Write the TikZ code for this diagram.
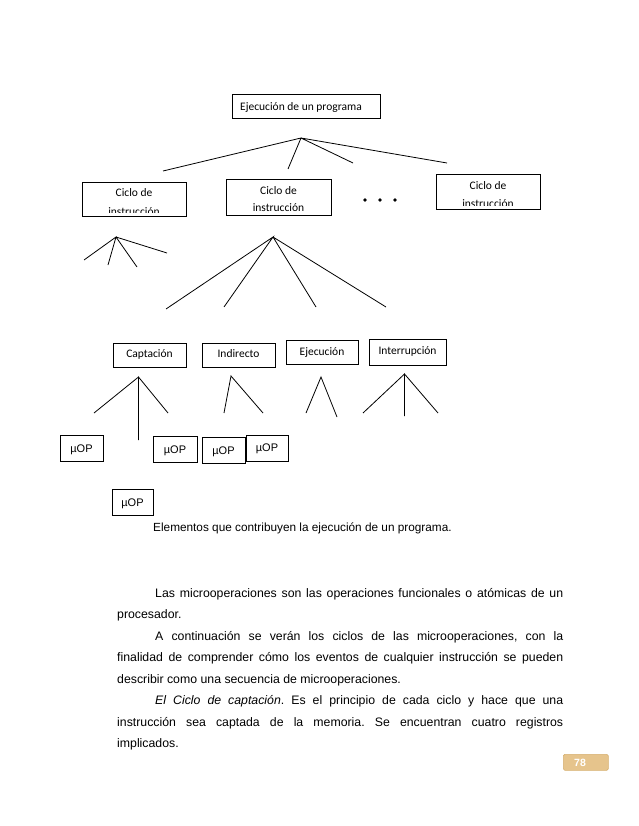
\documentclass[tikz,border=0pt]{standalone}
\usepackage{fontspec}
\setmainfont{Liberation Sans}
\newfontfamily\carl{Carlito}
\definecolor{pagetan}{RGB}{230,196,140}
\definecolor{pagetanb}{RGB}{214,176,112}
\frenchspacing
\begin{document}
\begin{tikzpicture}[x=1pt,y=-1pt,
  box/.style={draw, line width=0.9pt, inner sep=0pt, anchor=north west},
  lbl/.style={inner sep=0pt, anchor=base, font=\carl\fontsize{11.5}{14}\selectfont},
  uop/.style={inner sep=0pt, anchor=base, font=\fontsize{11}{13}\selectfont},
  ln/.style={line width=0.8pt}]
\useasboundingbox[fill=white] (0,0) rectangle (638,826);

% top box
\node[box, minimum width=148pt, minimum height=24pt] (top) at (232,94) {};
\node[lbl, anchor=base west] (topt) at (240,110.5) {Ejecución de un programa};

% lines from top
\coordinate (a0) at (301,138);
\coordinate (a1) at (163,171);
\coordinate (a2) at (288,169);
\coordinate (a3) at (353,163);
\coordinate (a4) at (447,163);
\draw[ln] (a1) -- (a0) -- (a2) (a0) -- (a3) (a0) -- (a4);

% cycle boxes
\node[box, minimum width=104pt, minimum height=34pt] (c1) at (82,182) {};
\node[box, minimum width=105pt, minimum height=36pt] (c2) at (226,179) {};
\node[box, minimum width=104pt, minimum height=35pt] (c3) at (436,174) {};
\begin{scope}
  \clip (82.5,182.5) rectangle (185.5,213);
  \node[lbl] (c1a) at (134,196.5) {Ciclo de};
  \node[lbl] (c1b) at (134,215) {instrucción};
\end{scope}
\begin{scope}
  \clip (226.5,179.5) rectangle (330.5,214.5);
  \node[lbl] (c2a) at (278.5,195) {Ciclo de};
  \node[lbl] (c2b) at (278.5,211.7) {instrucción};
\end{scope}
\begin{scope}
  \clip (436.5,174.5) rectangle (539.5,206);
  \node[lbl] (c3a) at (488,190) {Ciclo de};
  \node[lbl] (c3b) at (488,207.7) {instrucción};
\end{scope}

% dots
\coordinate (dots) at (380,200);
\fill (365,200) circle (1.8pt) (380,200) circle (1.8pt) (395,200) circle (1.8pt);

% small fan under cycle 1
\coordinate (s0) at (116,237);
\coordinate (s1) at (84,260);
\coordinate (s2) at (108,265);
\coordinate (s3) at (137,267);
\coordinate (s4) at (167,253);
\draw[ln] (s1) -- (s0) -- (s2) (s0) -- (s3) (s0) -- (s4);

% big fan under cycle 2
\coordinate (b0) at (273,237);
\coordinate (b1) at (166,309);
\coordinate (b2) at (224,307);
\coordinate (b3) at (316,307);
\coordinate (b4) at (386,307);
\draw[ln] (b1) -- (b0) -- (b2) (b0) -- (b3) (b0) -- (b4);

% phase boxes
\node[box, minimum width=73pt, minimum height=24pt] (cap) at (113,343) {};
\node[box, minimum width=73pt, minimum height=24pt] (ind) at (202,343) {};
\node[box, minimum width=72pt, minimum height=24pt] (eje) at (286,340) {};
\node[box, minimum width=77pt, minimum height=26pt] (int) at (369,339) {};
\node[lbl] (capt) at (149.5,357) {Captación};
\node[lbl] (indt) at (238.5,357) {Indirecto};
\node[lbl] (ejet) at (322,355) {Ejecución};
\node[lbl] (intt) at (407.5,354) {Interrupción};

% fans under phases
\coordinate (p0) at (138.5,377);
\coordinate (p1) at (94,413);
\coordinate (p2) at (138.5,440);
\coordinate (p3) at (168,413);
\draw[ln] (p1) -- (p0) -- (p2) (p0) -- (p3);
\coordinate (q0) at (231,376);
\coordinate (q1) at (224,413);
\coordinate (q2) at (263,413);
\draw[ln] (q1) -- (q0) -- (q2);
\coordinate (r0) at (321,377);
\coordinate (r1) at (306,413);
\coordinate (r2) at (337,417);
\draw[ln] (r1) -- (r0) -- (r2);
\coordinate (t0) at (404.5,374);
\coordinate (t1) at (363,413);
\coordinate (t2) at (404.5,416);
\coordinate (t3) at (438,413);
\draw[ln] (t1) -- (t0) -- (t2) (t0) -- (t3);

% micro-op boxes
\node[box, minimum width=43pt, minimum height=26pt] (u1) at (60,435) {};
\node[box, minimum width=44pt, minimum height=26pt] (u2) at (153,436) {};
\node[box, minimum width=43pt, minimum height=26pt] (u3) at (202,437) {};
\node[box, minimum width=42pt, minimum height=26pt] (u4) at (246,435) {};
\node[box, minimum width=41pt, minimum height=26pt] (u5) at (112,489) {};
\node[uop] (u1t) at (81.5,452.5) {µOP};
\node[uop] (u2t) at (175,453) {µOP};
\node[uop] (u3t) at (223.5,454) {µOP};
\node[uop] (u4t) at (267,451.5) {µOP};
\node[uop] (u5t) at (132.5,506) {µOP};

% caption
\node[inner sep=0pt, anchor=base west, font=\fontsize{11.8}{14}\selectfont] (capn) at (153,531)
  {Elementos que contribuyen la ejecución de un programa.};

% body text
\node[inner sep=0pt, anchor=base west, font=\fontsize{12.3}{21.43}\selectfont] (body) at (117,597.5)
{\parbox[t]{446pt}{\setlength{\parindent}{38pt}\setlength{\parfillskip}{0pt plus 1fil}\fontsize{12.3}{21.43}\selectfont
Las microoperaciones son las operaciones funcionales o atómicas de un\linebreak procesador.\par
A continuación se verán los ciclos de las microoperaciones, con la\linebreak finalidad de comprender cómo los eventos de cualquier instrucción se pueden\linebreak describir como una secuencia de microoperaciones.\par
\textit{El Ciclo de captación}. Es el principio de cada ciclo y hace que una\linebreak instrucción sea captada de la memoria. Se encuentran cuatro registros\linebreak implicados.\par}};

% page number
\node[draw=pagetanb, fill=pagetan, rounded corners=1.5pt, line width=0.6pt, inner sep=0pt,
  anchor=north west, minimum width=45pt, minimum height=16pt] (pg) at (563,754) {};
\node[inner sep=0pt, anchor=base west, text=white, font=\bfseries\fontsize{10.5}{12}\selectfont] (pgt) at (574,766) {78};
\end{tikzpicture}
\end{document}
